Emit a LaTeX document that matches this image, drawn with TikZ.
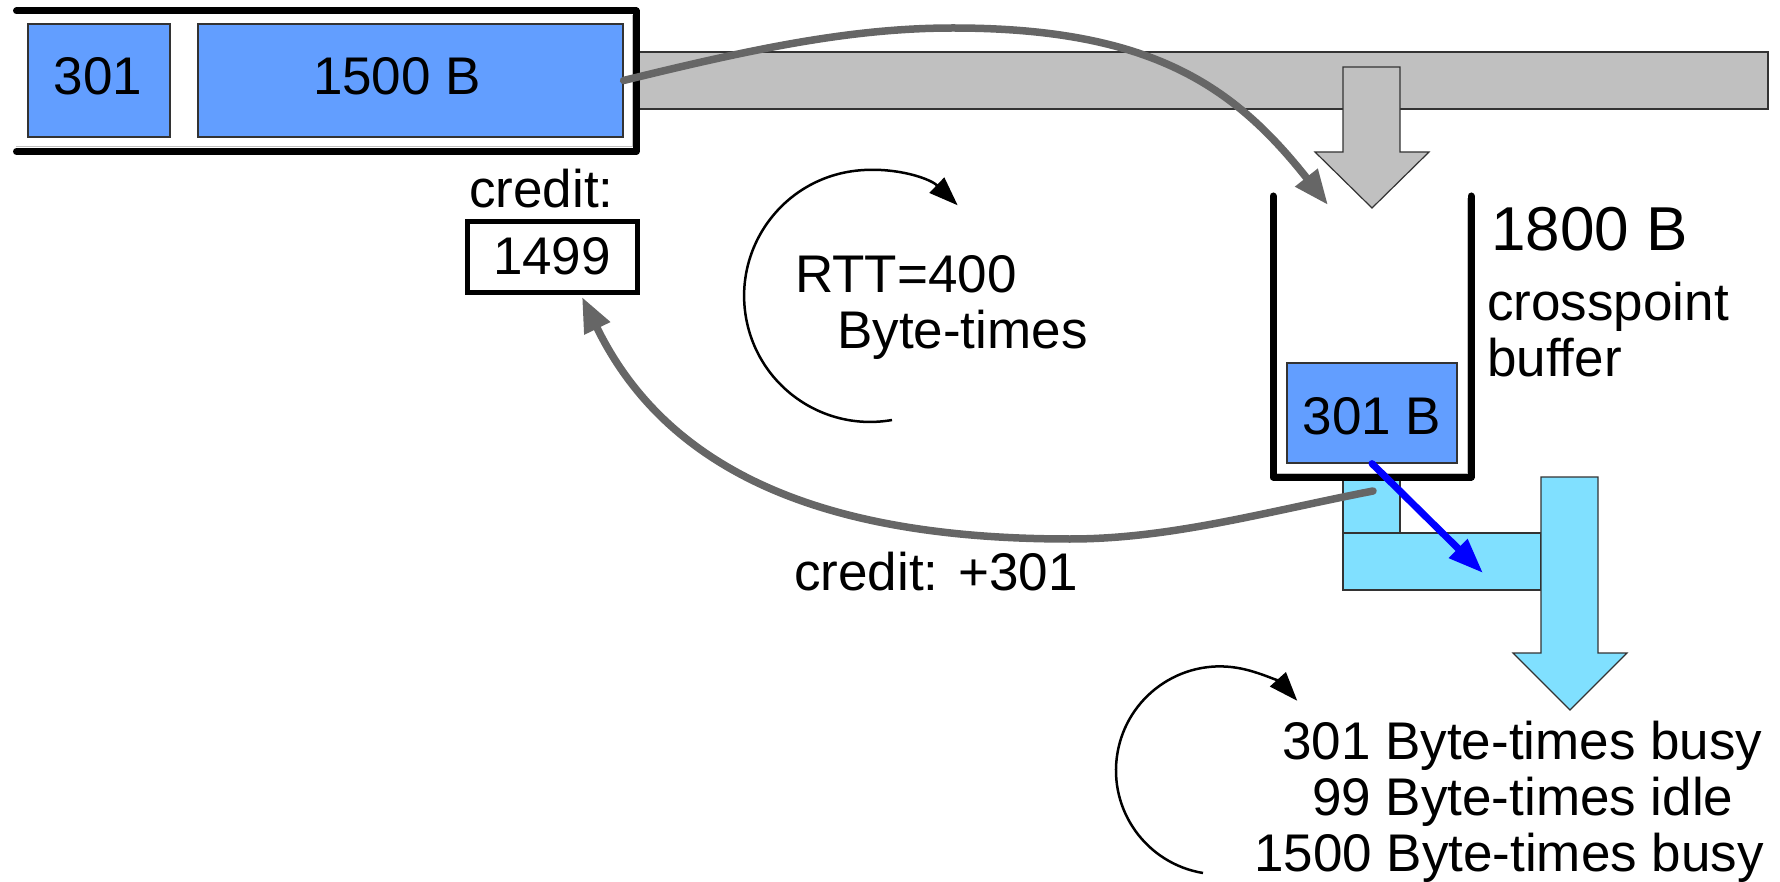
\documentclass[tikz,border=0pt]{standalone}
\usepackage{fontspec}
\setmainfont{Liberation Sans}
\usetikzlibrary{arrows.meta}
\definecolor{pktblue}{RGB}{98,158,255}
\definecolor{lightcyan}{RGB}{128,224,255}
\definecolor{bargray}{RGB}{192,192,192}
\definecolor{arcgray}{RGB}{102,102,102}
\definecolor{edgegray}{RGB}{51,51,51}
\begin{document}
\begin{tikzpicture}[x=1pt,y=-1pt,
  txt/.style={font=\fontsize{53}{56}\selectfont, inner sep=0pt, anchor=base west},
  txtc/.style={txt, anchor=base},
  bluebox/.style={draw=edgegray, line width=1.2pt, fill=pktblue, inner sep=0pt},
  thinshape/.style={draw=edgegray, line width=1.2pt},
  heavy/.style={line width=7pt, line cap=round, line join=round},
  faint/.style={draw=black!25, line width=1pt},
  grayarrow/.style={arcgray, line width=7.5pt, line cap=round, -{Triangle[length=35pt,width=27pt]}},
  thinarrow/.style={black, line width=2.5pt, -{Triangle[length=29pt,width=21pt]}},
]
\useasboundingbox (0,0) rectangle (1780,882);

% gray input bar and its down arrow
\draw[thinshape, fill=bargray] (636,52) rectangle (1768,109);
\draw[thinshape, fill=bargray] (1343,67) -- (1400,67) -- (1400,152) -- (1429,152)
  -- (1372,208) -- (1315,152) -- (1343,152) -- cycle;

% input queue with packets
\draw[faint] (16,147) -- (632,147) -- (632,15);
\node[bluebox, minimum width=142, minimum height=113] (b301) at (99,80.5) {};
\node[bluebox, minimum width=425, minimum height=113] (b1500) at (410.5,80.5) {};
\node[txtc] (t301) at (98,95) {301};
\node[txtc] (t1500) at (397,95) {1500 B};
\draw[heavy] (16.5,11) -- (636,11) -- (636,151.5) -- (16.5,151.5);

% credit counter
\node[txt] (tcredit) at (469,208) {credit:};
\node[draw, line width=5pt, minimum width=170, minimum height=71, inner sep=0pt] (c1499) at (552,257.5) {};
\node[txtc] (t1499) at (552,275) {1499};

% RTT loop
\draw[thinarrow] (892,420) arc[start angle=80, end angle=314, radius=126];
\node[txt] (rtt1) at (795,293) {RTT=400};
\node[txt] (rtt2) at (837,349) {Byte-times};

% output path (light blue)
\draw[thinshape, fill=lightcyan] (1343,478) rectangle (1400,533);
\draw[thinshape, fill=lightcyan] (1343,533) rectangle (1541,590);
\draw[thinshape, fill=lightcyan] (1541,477) -- (1598,477) -- (1598,653) -- (1627,653)
  -- (1570,710) -- (1513,653) -- (1541,653) -- cycle;

% crosspoint buffer
\draw[faint] (1277,473) -- (1467,473) -- (1467,198);
\node[bluebox, minimum width=170, minimum height=100] (b301b) at (1372,413) {};
\node[txtc] (t301b) at (1372,434) {301 B};
\draw[heavy] (1273,196) -- (1273,477) -- (1471,477) -- (1471,196);
\node[txt, font=\fontsize{62}{64}\selectfont] (t1800) at (1491,251) {1800 B};
\node[txt] (tcross) at (1487,321) {crosspoint};
\node[txt] (tbuf) at (1487,377) {buffer};

% top gray arc: packet to buffer
\coordinate (buftip) at (1328,205);
\draw[grayarrow] (b1500.east) .. controls (756,48) and (853,28) .. (953,28)
  .. controls (1153,28) and (1235,87.4) .. (buftip);

% blue departure arrow
\coordinate (btip) at (1483,573);
\draw[blue, line width=7pt, line cap=round, -{Triangle[length=35pt,width=25pt]}] (b301b.south) -- (btip);

% lower gray arc: credit return
\coordinate (credsrc) at (1373,491);
\draw[grayarrow] (credsrc) .. controls (1265,512) and (1170,539) .. (1070,539)
  .. controls (850,539) and (674,486) .. ([xshift=30pt,yshift=-1.5pt]c1499.south);
\node[txt] (tcred2) at (794,590) {credit: +301};

% bottom loop and timeline text
\draw[thinarrow] (1203,873) arc[start angle=99.4, end angle=318, radius=104];
\node[txt] (l1) at (1282,759) {301 Byte-times busy};
\node[txt] (l2) at (1312,815) {99 Byte-times idle};
\node[txt] (l3) at (1254,871) {1500 Byte-times busy};
\end{tikzpicture}
\end{document}
